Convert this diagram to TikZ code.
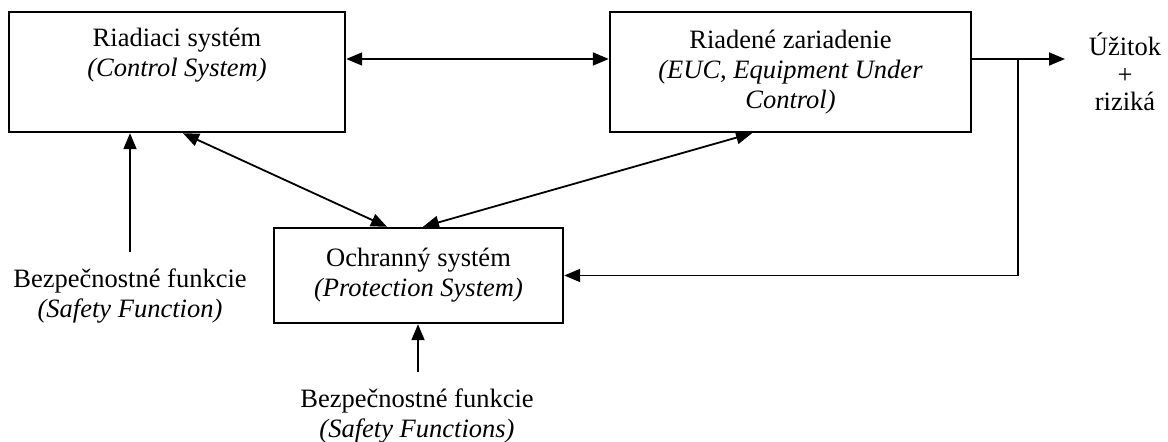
\documentclass[tikz,border=0pt]{standalone}
\usepackage{fontspec}
\setmainfont{Liberation Serif}
\usetikzlibrary{arrows.meta,calc}
\newcommand\fs{\fontsize{13.25pt}{15pt}\selectfont}
\begin{document}
\begin{tikzpicture}[x=0.5pt,y=-0.5pt,
  box/.style={draw,line width=1.2pt,inner sep=0pt,align=center,font=\fs},
  lbl/.style={inner sep=0pt,align=center,font=\fs},
  tip/.tip={Triangle[length=8pt,width=6.5pt]},
  arr/.style={line width=0.9pt,-tip},
  darr/.style={line width=0.9pt,tip-tip}]
\useasboundingbox (0,0) rectangle (1168,442);
% boxes
\node[box,minimum width=168pt,minimum height=60pt] (A) at (177,72)
  {Riadiaci systém\\\textit{(Control System)}\\\strut};
\node[box,minimum width=180.5pt,minimum height=60pt] (B) at (790.5,72)
  {Riadené zariadenie\\\textit{(EUC, Equipment Under}\\\textit{Control)}};
\node[box,minimum width=144.5pt,minimum height=47.5pt] (C) at (418.5,275.5)
  {Ochranný systém\\\textit{(Protection System)}};
% labels
\node[lbl] (LA) at (130,296) {Bezpečnostné funkcie\\\textit{(Safety Function)}};
\node[lbl] (LC) at (417,416) {Bezpečnostné funkcie\\\textit{(Safety Functions)}};
\node[lbl,font=\fontsize{13.25pt}{13.75pt}\selectfont] (U) at (1125,72) {Úžitok\\+\\riziká};
% helper coordinates
\coordinate (y1) at (0,59);
\coordinate (j) at (1018,59);
\coordinate (out) at (1065,59);
\coordinate (la) at (130,252);
\coordinate (lc) at (418,372);
% connectors
\draw[darr] (A.east |- y1) -- (B.west |- y1);
\draw[line width=0.9pt] (B.east |- y1) -- (j);
\draw[arr] (j) -- (out);
\draw[arr] (j) |- (C.east);
\draw[arr] (la) -- (la |- A.south);
\draw[arr] (lc) -- (lc |- C.south);
\draw[darr] ([xshift=3pt]A.south) -- ([xshift=-15.75pt]C.north);
\draw[darr] ([xshift=2.25pt]C.north) -- ([xshift=-19.25pt]B.south);
\end{tikzpicture}
\end{document}
